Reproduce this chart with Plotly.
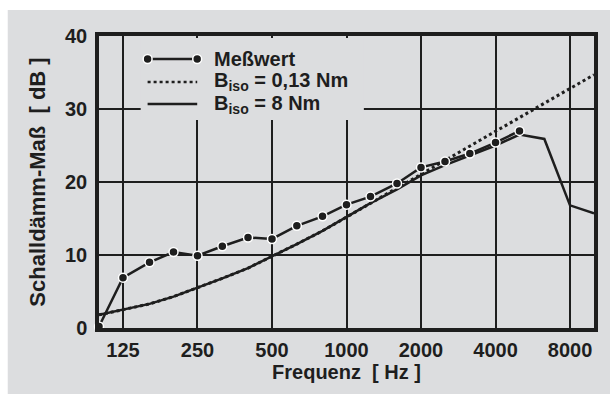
import plotly.graph_objects as go

# ---- data ----
freq_meas = [100, 125, 160, 200, 250, 315, 400, 500, 630, 800, 1000, 1250,
             1600, 2000, 2500, 3150, 4000, 5000]
meas_db = [0.2, 6.9, 9.0, 10.4, 9.9, 11.2, 12.4, 12.2, 14.0, 15.3, 16.9, 18.0,
           19.8, 22.0, 22.8, 23.9, 25.4, 27.0]

freq_theo = [100, 125, 160, 200, 250, 315, 400, 500, 630, 800, 1000, 1250,
             1600, 2000, 2500, 3150, 4000, 5000, 6300, 8000, 10000]
b013_db = [1.8, 2.5, 3.3, 4.3, 5.5, 6.8, 8.2, 9.8, 11.5, 13.3, 15.2, 17.1,
           19.1, 21.1, 23.0, 24.9, 26.9, 28.8, 30.8, 32.8, 34.7]
b8_db = [1.8, 2.5, 3.3, 4.3, 5.5, 6.8, 8.2, 9.8, 11.5, 13.3, 15.2, 17.1,
         19.0, 20.9, 22.3, 23.6, 25.0, 26.5, 25.9, 16.8, 15.7]

x_tickvals = [125, 250, 500, 1000, 2000, 4000, 8000]
x_ticktext = ["125", "250", "500", "1000", "2000", "4000", "8000"]
y_tickvals = [0, 10, 20, 30, 40]

legend_labels = ["Meßwert", "B<sub>iso</sub> = 0,13 Nm", "B<sub>iso</sub> = 8 Nm"]

# ---- figure ----
W, H = 610, 394
L, R, T, B = 99, 12, 36, 66
pw, ph = W - L - R, H - T - B


def px(xp):
    return (xp - L) / pw


def py(yp):
    return (H - B - yp) / ph


INK = "#1e1e1e"
BG = "#dcdddf"
FONT = "Liberation Sans"

fig = go.Figure()
fig.add_trace(go.Scatter(x=freq_theo, y=b013_db, mode="lines",
                         line=dict(color=INK, width=3, dash="dot"),
                         showlegend=False))
fig.add_trace(go.Scatter(x=freq_theo, y=b8_db, mode="lines",
                         line=dict(color=INK, width=2.5),
                         showlegend=False))
fig.add_trace(go.Scatter(x=freq_meas, y=meas_db, mode="lines+markers",
                         line=dict(color=INK, width=2.5),
                         marker=dict(color=INK, size=9,
                                     line=dict(color="white", width=1.5)),
                         showlegend=False, cliponaxis=False))

shapes = []
# white page border (top and left), gray panel elsewhere
shapes.append(dict(type="rect", xref="paper", yref="paper",
                   x0=px(-5), x1=px(7), y0=py(H + 5), y1=py(-5),
                   fillcolor="white", line=dict(width=0), layer="below"))
shapes.append(dict(type="rect", xref="paper", yref="paper",
                   x0=px(-5), x1=px(W + 5), y0=py(10), y1=py(-5),
                   fillcolor="white", line=dict(width=0), layer="below"))
# legend box covering grid
shapes.append(dict(type="rect", xref="paper", yref="paper",
                   x0=px(141), x1=px(366), y0=py(120), y1=py(38),
                   fillcolor=BG, line=dict(width=0), layer="above"))

rows_y = [59, 82, 104]
dashes = ["solid", "dot", "solid"]
annotations = []
for i, (lab, yy) in enumerate(zip(legend_labels, rows_y)):
    shapes.append(dict(type="line", xref="paper", yref="paper",
                       x0=px(148), x1=px(198), y0=py(yy), y1=py(yy),
                       line=dict(color=INK, width=2.5, dash=dashes[i]),
                       layer="above"))
    if i == 0:
        for cx in (148, 198):
            shapes.append(dict(type="circle", xref="paper", yref="paper",
                               x0=px(cx - 4.5), x1=px(cx + 4.5),
                               y0=py(yy + 4.5), y1=py(yy - 4.5),
                               fillcolor=INK, line=dict(color="white", width=1.5),
                               layer="above"))
    annotations.append(dict(text=lab, xref="paper", yref="paper",
                            x=px(213), y=py(yy), xanchor="left", yanchor="middle",
                            showarrow=False,
                            font=dict(size=20, color=INK, family=FONT,
                                      weight="bold")))

fig.update_layout(
    width=W, height=H,
    margin=dict(l=L, r=R, t=T, b=B),
    paper_bgcolor=BG, plot_bgcolor="rgba(0,0,0,0)",
    font=dict(family=FONT, size=20, color=INK, weight="bold"),
    shapes=shapes, annotations=annotations,
    xaxis=dict(type="log", range=[2, 4], tickvals=x_tickvals, ticktext=x_ticktext,
               showgrid=True, gridcolor=INK, gridwidth=2,
               showline=True, mirror=True, linecolor=INK, linewidth=3.5,
               ticks="outside", ticklen=1, tickcolor="rgba(0,0,0,0)",
               zeroline=False,
               title=dict(text="Frequenz  [ Hz ]", standoff=5,
                          font=dict(size=20))),
    yaxis=dict(range=[0, 40], tickvals=y_tickvals,
               showgrid=True, gridcolor=INK, gridwidth=2,
               showline=True, mirror=True, linecolor=INK, linewidth=3.5,
               ticks="outside", ticklen=4, tickcolor="rgba(0,0,0,0)",
               zeroline=False,
               title=dict(text="Schalldämm-Maß  [ dB ]", standoff=14,
                          font=dict(size=22))),
)

fig.write_html("out.html")
